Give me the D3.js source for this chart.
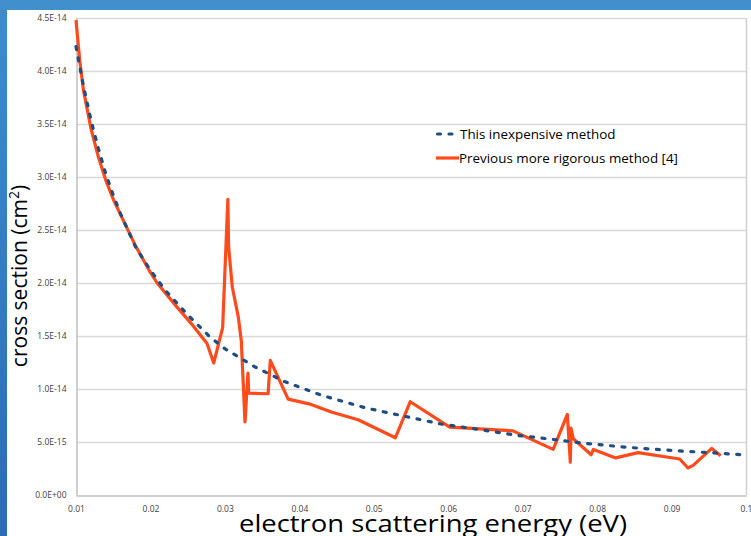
<!DOCTYPE html>
<html>
<head>
<meta charset="utf-8">
<script src="https://cdn.jsdelivr.net/npm/d3@7"></script>
<style>
  html, body { margin: 0; padding: 0; background: #fff; }
  svg { display: block; }
</style>
</head>
<body>
<div id="vis-container"></div>
<script>
// cross sections are kept in units of 1e-14 cm^2

// This inexpensive method (dashed blue)
const cheapEnergy = [0.010, 0.011, 0.012, 0.013, 0.014, 0.015, 0.016, 0.018, 0.020, 0.022,
    0.025, 0.028, 0.030, 0.034, 0.038, 0.043, 0.049, 0.054, 0.059, 0.064,
    0.069, 0.074, 0.078, 0.084, 0.090, 0.095, 0.100]
const cheapSigma = [4.23, 3.86, 3.54, 3.27, 3.03, 2.83, 2.65, 2.34, 2.12, 1.93,
    1.70, 1.49, 1.38, 1.21, 1.07, 0.94, 0.82, 0.745, 0.67, 0.62,
    0.565, 0.525, 0.49, 0.45, 0.42, 0.40, 0.377]

// Previous more rigorous method [4] (solid orange)
const rigorEnergy = [0.0100, 0.0105, 0.0110, 0.0120, 0.0130, 0.0140, 0.0150, 0.0165, 0.0180, 0.0199,
    0.0209, 0.0236, 0.0257, 0.0276, 0.0285, 0.0297, 0.0304, 0.0305, 0.0310, 0.0318,
    0.0322, 0.0327, 0.0331, 0.0332, 0.0358, 0.0361, 0.0385, 0.0413, 0.0444, 0.0479,
    0.0529, 0.0549, 0.0602, 0.0687, 0.0741, 0.0760, 0.0764, 0.0765, 0.0768, 0.0792,
    0.0795, 0.0825, 0.0855, 0.0911, 0.0922, 0.0929, 0.0954, 0.0966]
const rigorSigma = [4.48, 4.10, 3.82, 3.46, 3.19, 2.97, 2.79, 2.57, 2.35, 2.11,
    2.00, 1.77, 1.60, 1.43, 1.245, 1.58, 2.79, 2.34, 1.96, 1.68,
    1.46, 0.69, 1.15, 0.96, 0.955, 1.27, 0.905, 0.86, 0.78, 0.71,
    0.54, 0.88, 0.64, 0.605, 0.43, 0.76, 0.31, 0.63, 0.53, 0.38,
    0.43, 0.35, 0.40, 0.34, 0.255, 0.28, 0.44, 0.37]

const xTicks = [0.01, 0.02, 0.03, 0.04, 0.05, 0.06, 0.07, 0.08, 0.09, 0.1]
const yTicks = [0, 0.5, 1.0, 1.5, 2.0, 2.5, 3.0, 3.5, 4.0, 4.5]
const seriesNames = ["This inexpensive method", "Previous more rigorous method [4]"]

////////////////////////////////////
///////////// SVG Setup ////////////
////////////////////////////////////

const svgWidth = 751
const svgHeight = 536
const plot = { left: 76, right: 746, top: 18, bottom: 495 }

const svg = d3.select('#vis-container')
    .append('svg')
    .attr('width', svgWidth)
    .attr('height', svgHeight)

// slide frame (blue band on top and left)
const defs = svg.append('defs')
const grad = defs.append('linearGradient')
    .attr('id', 'frame').attr('x1', 0).attr('y1', 0).attr('x2', 0).attr('y2', 1)
grad.append('stop').attr('offset', '0%').attr('stop-color', '#3f8ccd')
grad.append('stop').attr('offset', '100%').attr('stop-color', '#2b6db4')

svg.append('rect').attr('width', svgWidth).attr('height', svgHeight).attr('fill', 'url(#frame)')
svg.append('rect').attr('x', 0).attr('y', 0).attr('width', svgWidth).attr('height', 10).attr('fill', '#428fcd')
svg.append('rect').attr('x', 7).attr('y', 10).attr('width', svgWidth - 7).attr('height', svgHeight - 10).attr('fill', '#fff')

////////////////////////////////////
/////////////// Scales /////////////
////////////////////////////////////

const xScale = d3.scaleLinear().domain([0.01, 0.1]).range([plot.left, plot.right])
const yScale = d3.scaleLinear().domain([0, 4.5]).range([plot.bottom, plot.top])

// Excel style 0.0E+00 labels
function sci(v) {
    if (v === 0) return '0.0E+00'
    const val = v * 1e-14
    const e = Math.floor(Math.log10(val) + 1e-9)
    const m = val / Math.pow(10, e)
    return m.toFixed(1) + 'E' + (e < 0 ? '-' : '+') + String(Math.abs(e)).padStart(2, '0')
}

////////////////////////////////////
////////////// Axis ////////////////
////////////////////////////////////

// horizontal gridlines
svg.append('g').selectAll('line')
    .data(yTicks.filter(d => d > 0))
    .join('line')
    .attr('x1', plot.left).attr('x2', plot.right)
    .attr('y1', d => Math.round(yScale(d)) + 0.5).attr('y2', d => Math.round(yScale(d)) + 0.5)
    .attr('stroke', '#d9d9d9').attr('stroke-width', 1.5)

// right border
svg.append('line')
    .attr('x1', plot.right + 0.5).attr('x2', plot.right + 0.5)
    .attr('y1', plot.top).attr('y2', plot.bottom)
    .attr('stroke', '#d0d0d0').attr('stroke-width', 1.5)

const yAxis = d3.axisLeft(yScale).tickValues(yTicks).tickFormat(sci).tickSize(0).tickPadding(10)
const gy = svg.append('g').attr('transform', `translate(${plot.left + 0.5},0)`).call(yAxis)

const xAxis = d3.axisBottom(xScale).tickValues(xTicks).tickFormat(d => d3.format('.2~f')(d)).tickSize(0).tickPadding(10)
const gx = svg.append('g').attr('transform', `translate(0,${plot.bottom + 0.5})`).call(xAxis)

for (const g of [gx, gy]) {
    g.select('.domain').attr('stroke', '#bfbfbf').attr('stroke-width', 1.5)
    g.selectAll('text')
        .attr('fill', '#404040')
        .style('font-family', 'Open Sans, sans-serif')
        .style('font-size', '8.5px')
}

// axis titles
svg.append('text')
    .attr('x', 433).attr('y', 532)
    .attr('text-anchor', 'middle')
    .attr('textLength', 388)
    .attr('lengthAdjust', 'spacingAndGlyphs')
    .style('font-family', 'Open Sans, sans-serif')
    .style('font-size', '23px')
    .attr('fill', '#000')
    .text('electron scattering energy (eV)')

const yTitle = svg.append('text')
    .attr('transform', 'translate(27,276) rotate(-90)')
    .attr('text-anchor', 'middle')
    .style('font-family', 'Open Sans, sans-serif')
    .style('font-size', '21px')
    .attr('fill', '#000')
yTitle.append('tspan').text('cross section (cm')
yTitle.append('tspan').attr('dy', -8).style('font-size', '14px').text('2')
yTitle.append('tspan').attr('dy', 8).text(')')

////////////////////////////////////
///////////// Add Items ////////////
////////////////////////////////////

const line = d3.line().x(d => xScale(d[0])).y(d => yScale(d[1]))

svg.append('path')
    .datum(rigorEnergy.map((e, i) => [e, rigorSigma[i]]))
    .attr('d', line)
    .attr('fill', 'none')
    .attr('stroke', '#ff4a1c')
    .attr('stroke-width', 3.2)
    .attr('stroke-linejoin', 'round')

svg.append('path')
    .datum(cheapEnergy.map((e, i) => [e, cheapSigma[i]]))
    .attr('d', line)
    .attr('fill', 'none')
    .attr('stroke', '#1f4e83')
    .attr('stroke-width', 3.2)
    .attr('stroke-linecap', 'round')
    .attr('stroke-dasharray', '3,8.5')

////////////////////////////////////
/////////////// Legend /////////////
////////////////////////////////////

const legend = svg.append('g').attr('transform', 'translate(436,134)')

legend.append('line')
    .attr('x1', 1.5).attr('x2', 20).attr('y1', 0).attr('y2', 0)
    .attr('stroke', '#1f4e83').attr('stroke-width', 3.2)
    .attr('stroke-linecap', 'round').attr('stroke-dasharray', '3,8.5')

legend.append('line')
    .attr('x1', 0).attr('x2', 23).attr('y1', 24).attr('y2', 24)
    .attr('stroke', '#ff4a1c').attr('stroke-width', 3.2)

legend.selectAll('text')
    .data(seriesNames)
    .join('text')
    .attr('x', (d, i) => i === 0 ? 24 : 23)
    .attr('y', (d, i) => i * 24 + 5)
    .style('font-family', 'Open Sans, sans-serif')
    .style('font-size', '13.4px')
    .attr('fill', '#000')
    .text(d => d)
</script>
</body>
</html>
